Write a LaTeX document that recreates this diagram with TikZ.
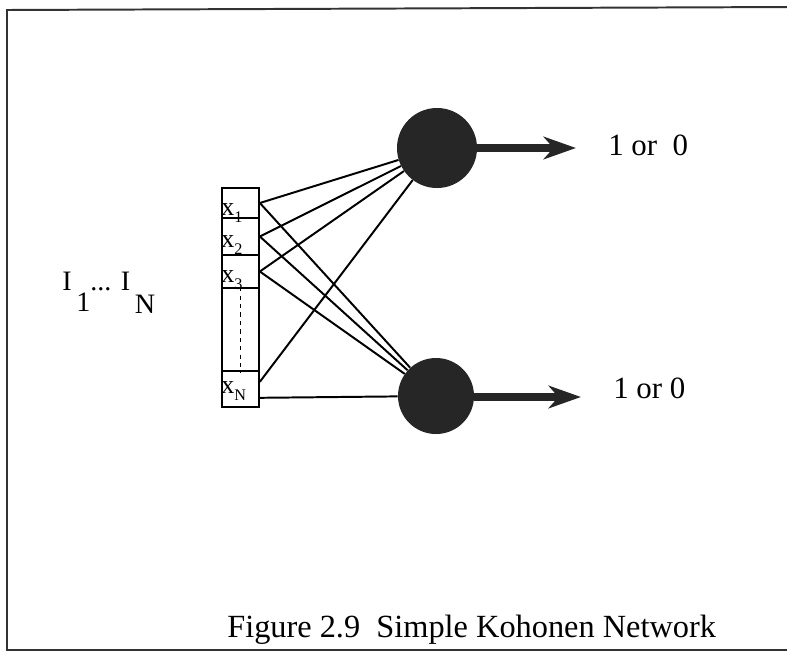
\documentclass[tikz,border=0pt]{standalone}
\usepackage{fontspec}
\setmainfont{Liberation Serif}
\usetikzlibrary{arrows.meta}

\definecolor{nodegray}{HTML}{262626}
\definecolor{framegray}{HTML}{333333}

\newcommand{\xsub}[1]{\raisebox{-5pt}{\fontsize{11.5}{13}\selectfont #1}}

\begin{document}
\begin{tikzpicture}[x=0.025cm, y=-0.025cm]
    \useasboundingbox (0,0) rectangle (787,652);
    \draw[color=framegray, line width=1.4pt] (792,7) -- (7,10) -- (7,650) -- (792,650);
    \begin{scope}[cell/.style={draw, rectangle, line width=1.2pt, minimum width=0.925cm, inner sep=0pt},
        xlab/.style={anchor=base west, inner sep=0pt, font=\fontsize{18.5}{20}\selectfont},
        unit/.style={circle, fill=nodegray, inner sep=0pt}]

        \node[cell, minimum height=0.75cm] (c1) at (240.5, 203) {};
        \node[cell, minimum height=0.925cm] (c2) at (240.5, 236.5) {};
        \node[cell, minimum height=0.825cm] (c3) at (240.5, 271.5) {};
        \node[cell, minimum height=2.075cm] (cg) at (240.5, 329.5) {};
        \node[cell, minimum height=0.9cm] (cN) at (240.5, 389) {};
        \draw[dashed, line width=1.2pt] (cg.north) -- (cg.south);

        \node[xlab] (x1) at (221, 215) {x\xsub{1}};
        \node[xlab] (x2) at (221, 247) {x\xsub{2}};
        \node[xlab] (x3) at (221, 282) {x\xsub{3}};
        \node[xlab] (xN) at (221, 393) {x\xsub{N}};

        \node[unit, minimum size=2cm] (u1) at (437, 148) {};
        \node[unit, minimum size=1.9cm] (u2) at (436, 396) {};

        \node[anchor=base west, inner sep=0pt, font=\fontsize{20}{23}\selectfont] (in) at (62, 290)
            {I\,\raisebox{-15pt}{1}... I\,\raisebox{-17pt}{N}};

        \begin{scope}[line width=1.4pt]
        \path (c1.east) edge (u1) ;
        \path (c1.east) edge (u2) ;
        \path (c2.east) edge (u1) ;
        \path (c2.east) edge (u2) ;
        \path (c3.east) edge (u1) ;
        \path (c3.east) edge (u2) ;
        \path ([yshift=0.18cm]cN.east) edge (u1) ;
        \path ([yshift=-0.22cm]cN.east) edge (u2) ;
        \end{scope}

        \coordinate (a1) at (576, 148);
        \coordinate (a2) at (581, 397);
        \begin{scope}[line width=5pt, -{Stealth[length=23pt, width=16pt, inset=7pt]}, color=nodegray]
        \draw (u1) -- (a1);
        \draw ([yshift=-0.025cm]u2.east) -- (a2);
        \end{scope}

        \node[anchor=base west, inner sep=0pt, font=\fontsize{22}{25}\selectfont] (o1) at (608, 155) {1 or~~0};
        \node[anchor=base west, inner sep=0pt, font=\fontsize{22}{25}\selectfont] (o2) at (613, 398) {1 or 0};

        \node[anchor=base west, inner sep=0pt, font=\fontsize{23}{26}\selectfont] (cap) at (227, 637)
            {Figure 2.9~~Simple Kohonen Network};
    \end{scope}
\end{tikzpicture}
\end{document}
